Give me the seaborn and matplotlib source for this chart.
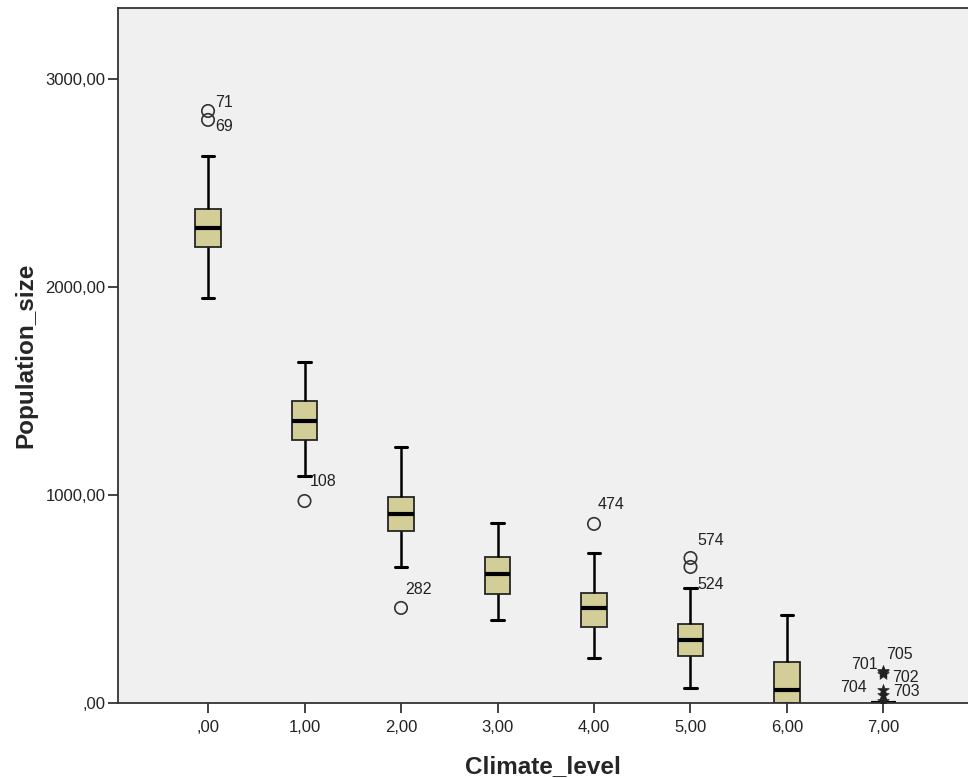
import matplotlib
matplotlib.use("Agg")
import matplotlib.pyplot as plt
import seaborn as sns
import pandas as pd

# ---------------- data ----------------
categories = [",00", "1,00", "2,00", "3,00", "4,00", "5,00", "6,00", "7,00"]
whisker_low = [1947, 1091, 654, 399, 216, 72, 0, 0]
q1 = [2192, 1265, 827, 524, 365, 228, 0, 0]
median = [2284, 1356, 909, 620, 457, 303, 62, 0]
q3 = [2375, 1452, 990, 702, 529, 378, 197, 0]
whisker_high = [2630, 1640, 1231, 865, 723, 553, 423, 0]

outlier_group = [",00", ",00", "1,00", "2,00", "4,00", "5,00", "5,00"]
outlier_value = [2846, 2803, 971, 457, 861, 697, 654]
outlier_label = ["71", "69", "108", "282", "474", "574", "524"]

extreme_group = ["7,00", "7,00", "7,00", "7,00", "7,00", "7,00"]
extreme_value = [152, 148, 140, 62, 40, 8]
extreme_label = ["705", "701", "702", "704", "703", ""]

y_ticks = [0, 1000, 2000, 3000]
y_ticklabels = [",00", "1000,00", "2000,00", "3000,00"]

# label placement (pixel offsets dx, dy, ha)
outlier_offsets = [(7, 8, "left"), (7, -7, "left"), (5, 20, "left"), (4, 18, "left"),
                   (4, 19, "left"), (7, 18, "left"), (7, -18, "left")]
extreme_offsets = [(3, 17, "left"), (-6, 8, "right"), (9, -4, "left"),
                   (-17, 3, "right"), (10, 3, "left"), (0, 0, "left")]

# ---------------- build long table of box summary values ----------------
rows = []
for c, a, b, m, d, e in zip(categories, whisker_low, q1, median, q3, whisker_high):
    for v in (a, b, m, d, e):
        rows.append({"Climate_level": c, "Population_size": v})
df = pd.DataFrame(rows)

sns.set_style("white")
plt.rcParams["font.family"] = ["Liberation Sans", "DejaVu Sans"]

fig = plt.figure(figsize=(9.68, 7.78), dpi=100)
ax = fig.add_axes([118 / 968, 1 - 703 / 778, 1 - 118 / 968, (703 - 8) / 778])
ax.set_facecolor("#F0F0F0")

sns.boxplot(data=df, x="Climate_level", y="Population_size", order=categories,
            whis=(0, 100), width=0.26, color="#D3CE98", saturation=1,
            linecolor="#262626", linewidth=1.3, fliersize=0, ax=ax,
            medianprops={"linewidth": 3, "color": "black"},
            whiskerprops={"linewidth": 1.8, "color": "black"},
            capprops={"linewidth": 2.2, "color": "black"})

pos = {c: i for i, c in enumerate(categories)}
odf = pd.DataFrame({"x": [pos[g] for g in outlier_group], "y": outlier_value})
edf = pd.DataFrame({"x": [pos[g] for g in extreme_group], "y": extreme_value})

sns.scatterplot(data=odf, x="x", y="y", marker="o", s=80, facecolor="none",
                edgecolor="#333333", linewidth=1.2, ax=ax, zorder=5, legend=False)
sns.scatterplot(data=edf, x="x", y="y", marker="*", s=75, color="#222222",
                edgecolor="#222222", linewidth=0.5, ax=ax, zorder=5, legend=False)

for g, v, lab, (dx, dy, ha) in zip(outlier_group, outlier_value, outlier_label, outlier_offsets):
    ax.annotate(lab, (pos[g], v), xytext=(dx, dy), textcoords="offset pixels",
                ha=ha, va="center", fontsize=11.5, color="#222222")
for g, v, lab, (dx, dy, ha) in zip(extreme_group, extreme_value, extreme_label, extreme_offsets):
    if lab:
        ax.annotate(lab, (pos[g], v), xytext=(dx, dy), textcoords="offset pixels",
                    ha=ha, va="center", fontsize=11.5, color="#222222")

ax.set_xlim(-0.933, 7.876)
ax.set_ylim(0, 3341)
ax.set_yticks(y_ticks)
ax.set_yticklabels(y_ticklabels)
ax.set_xticks(range(len(categories)))
ax.set_xticklabels(categories)

for side in ["left", "bottom", "top"]:
    ax.spines[side].set_visible(True)
    ax.spines[side].set_color("#333333")
    ax.spines[side].set_linewidth(1.3)
ax.spines["right"].set_visible(False)

ax.tick_params(axis="both", direction="out", length=7, width=1.3, color="#333333",
               labelsize=12, labelcolor="#222222", pad=2,
               left=True, bottom=True)
ax.tick_params(axis="x", pad=5)

ax.set_xlabel("Climate_level", fontsize=17.5, fontweight="bold", labelpad=15)
ax.set_ylabel("Population_size", fontsize=17.5, fontweight="bold", labelpad=6)
ax.grid(False)

fig.savefig("out.png", dpi=100)
